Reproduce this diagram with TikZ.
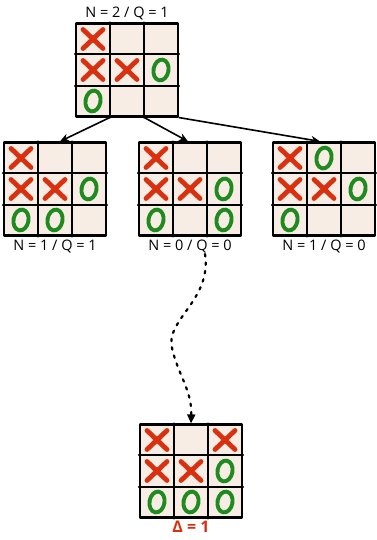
\documentclass[tikz,border=0pt]{standalone}
\usepackage{fontspec}
\setmainfont{Open Sans}
\usetikzlibrary{arrows.meta,calc,positioning}
\definecolor{boardfill}{HTML}{F8EDE4}
\definecolor{xred}{HTML}{D9300F}
\definecolor{ogreen}{HTML}{1F8B1F}
\newcommand{\cellw}{34}
\newcommand{\cellh}{31}
\tikzset{
  board/.style={draw,fill=boardfill,line width=2.2pt,minimum width=102pt,minimum height=93pt,inner sep=0pt},
  grid line/.style={line width=1.9pt},
  mark x/.style={xred,line width=4.8pt,line cap=round},
  mark o/.style={ogreen,line width=3.9pt},
  move/.style={line width=1.6pt,-{Stealth[length=9pt,width=8pt]}},
  board label/.style={font=\fontsize{14.5}{16}\selectfont,inner sep=1pt},
  rollout/.style={line width=2.2pt,dash pattern=on 2.5pt off 6pt,-{Triangle[length=9pt,width=8pt]}}
}
\newcommand{\Board}[2]{%
  \node[board] (#1) at (#2) {};
  \foreach \t in {1,2} {
    \draw[grid line] ($(#1.north west)!\t/3!(#1.north east)$) -- ($(#1.south west)!\t/3!(#1.south east)$);
    \draw[grid line] ($(#1.north west)!\t/3!(#1.south west)$) -- ($(#1.north east)!\t/3!(#1.south east)$);
  }}
\newcommand{\MarkX}[3]{\draw[mark x] ($(#1.center)+({(#2-2)*\cellw-10},{(#3-2)*\cellh-9.5})$) -- ++(20,19) ++(0,-19) -- ++(-20,19);}
\newcommand{\MarkO}[3]{\draw[mark o] ($(#1.center)+({(#2-2)*\cellw},{(#3-2)*\cellh})$) circle[x radius=7.5pt,y radius=10.5pt,rotate=-10];}

\begin{document}
\begin{tikzpicture}[x=1pt,y=-1pt,line cap=round,line join=round]
  \useasboundingbox (0,0) rectangle (376,540);

  % boards
  \Board{root}{127,70}
  \Board{c1}{55,189}
  \Board{c2}{190,189}
  \Board{c3}{324,189}
  \Board{leaf}{191,471}

  % marks
  \foreach \c/\r in {1/1,1/2,2/2} {\MarkX{root}{\c}{\r}}
  \foreach \c/\r in {3/2,1/3} {\MarkO{root}{\c}{\r}}
  \foreach \c/\r in {1/1,1/2,2/2} {\MarkX{c1}{\c}{\r}}
  \foreach \c/\r in {3/2,1/3,2/3} {\MarkO{c1}{\c}{\r}}
  \foreach \c/\r in {1/1,1/2,2/2} {\MarkX{c2}{\c}{\r}}
  \foreach \c/\r in {3/2,1/3,3/3} {\MarkO{c2}{\c}{\r}}
  \foreach \c/\r in {1/1,1/2,2/2} {\MarkX{c3}{\c}{\r}}
  \foreach \c/\r in {2/1,3/2,1/3} {\MarkO{c3}{\c}{\r}}
  \foreach \c/\r in {1/1,3/1,1/2,2/2} {\MarkX{leaf}{\c}{\r}}
  \foreach \c/\r in {3/2,1/3,2/3,3/3} {\MarkO{leaf}{\c}{\r}}

  % labels
  \node[board label,above=1pt of root] (rootlabel) {N = 2 / Q = 1};
  \node[board label,below=2pt of c1] (c1label) {N = 1 / Q = 1};
  \node[board label,below=2pt of c2] (c2label) {N = 0 / Q = 0};
  \node[board label,below=2pt of c3] (c3label) {N = 1 / Q = 0};
  \node[board label,below=1pt of leaf,text=xred,font=\fontsize{16}{18}\selectfont\bfseries] (leaflabel) {Δ = 1};

  % expansion
  \draw[move] ($(root.south west)!1/3!(root.south east)$) -- ([xshift=5pt]c1.north);
  \draw[move] ($(root.south west)!2/3!(root.south east)$) -- ([xshift=-2pt]c2.north);
  \draw[move] (root.south east) -- ([xshift=-4pt]c3.north);

  % rollout
  \draw[rollout] ([xshift=15pt]c2label.south) .. controls (212,300) and (165,320) .. (172,348)
        .. controls (178,375) and (192,390) .. (leaf.north);
\end{tikzpicture}
\end{document}
